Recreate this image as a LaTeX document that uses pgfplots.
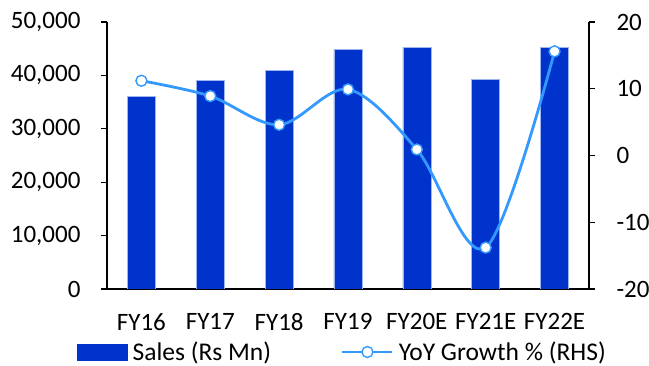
\documentclass[border=0pt]{standalone}
\usepackage{pgfplots}
\pgfplotsset{compat=1.18}
\usepackage{fontspec}
\setmainfont{Carlito}
\definecolor{barblue}{HTML}{0033CC}
\definecolor{baredge}{HTML}{9DB4F0}
\definecolor{lineblue}{HTML}{3399FF}

\pgfplotstableread{
x  sales  yoy
0  36000  11.2
1  39100  8.9
2  41000  4.6
3  44900  9.9
4  45300  0.9
5  39200  -13.8
6  45300  15.6
}\fydata

\begin{document}
\begin{tikzpicture}
\useasboundingbox (-107pt,-77pt) rectangle (542pt,289pt);
\pgfplotsset{
  base/.style={
    scale only axis, width=482pt, height=267pt,
    at={(0,0)}, anchor=south west,
    xmin=-0.5, xmax=6.5,
    tick style={black, line width=1.2pt},
    axis line style={black, line width=1.5pt},
    tick align=outside,
    major tick length=6pt,
    tick label style={font=\fontsize{25}{30}\selectfont},
    /pgf/number format/assume math mode=true,
  }
}
% Sales bars on the left axis
\begin{axis}[base,
  axis x line*=bottom, axis y line*=left,
  ymin=0, ymax=50000, ytick={0,10000,...,50000},
  scaled y ticks=false,
  /pgf/number format/fixed,
  /pgf/number format/1000 sep={,},
  xtick={0,...,6},
  xticklabels={FY16,FY17,FY18,FY19,FY20E,FY21E,FY22E},
  xtick style={draw=none},
  minor xtick={-0.5,0.5,...,6.5},
  minor tick length=6pt,
  minor tick style={black, line width=1.2pt},
  xticklabel style={yshift=-15pt},
  yticklabel style={xshift=-17pt},
]
\addplot[ybar, bar width=28pt, fill=barblue, draw=baredge, line width=0.6pt]
  table[x=x, y=sales] {\fydata};
\end{axis}
% YoY growth on the right axis
\begin{axis}[base,
  axis x line=none, axis y line*=right,
  ymin=-20, ymax=20, ytick={-20,-10,...,20},
  yticklabel style={anchor=west, xshift=18pt},
  legend style={at={(0,0)}, anchor=west, xshift=-33pt, yshift=-63pt,
    draw=none, fill=none, font=\fontsize{25.5}{30}\selectfont,
    /tikz/every even column/.append style={column sep=68pt}},
  legend columns=2,
  legend cell align=left,
]
\addlegendimage{legend image code/.code={
  \fill[barblue] (0pt,-8pt) rectangle (50pt,8pt);
  \path (53pt,0pt);}}
\addlegendentry{Sales (Rs Mn)}
\addplot[smooth, tension=0.55, color=lineblue, line width=2.8pt,
  mark=*, mark size=5.5pt, mark options={fill=white, draw=lineblue, line width=1.4pt},
  legend image code/.code={
    \draw[lineblue, line width=2.8pt] (0pt,0pt) -- (50pt,0pt);
    \draw[lineblue, line width=1.4pt, fill=white] (25pt,0pt) circle (5.5pt);
    \path (53pt,0pt);}]
  table[x=x, y=yoy] {\fydata};
\addlegendentry{YoY Growth \% (RHS)}
\end{axis}
\end{tikzpicture}
\end{document}
